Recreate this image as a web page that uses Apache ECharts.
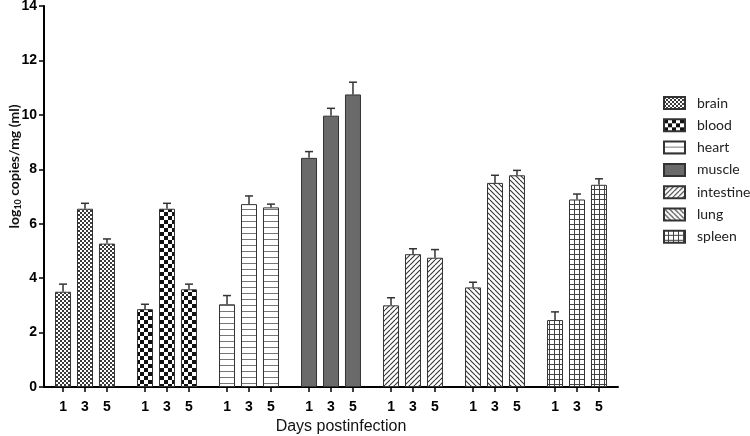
<!DOCTYPE html>
<html>
<head>
<meta charset="utf-8">
<script src="https://cdn.jsdelivr.net/npm/echarts@6/dist/echarts.min.js"></script>
<style>html,body{margin:0;padding:0;background:#fff}#c{width:750px;height:436px}</style>
</head>
<body>
<div id="c"></div>
<script>
// ---- data ----
const tissues = ['brain', 'blood', 'heart', 'muscle', 'intestine', 'lung', 'spleen'];
const days = ['1', '3', '5'];
const brainMean = [3.5, 6.55, 5.27];
const brainErr = [0.28, 0.2, 0.17];
const bloodMean = [2.86, 6.55, 3.59];
const bloodErr = [0.18, 0.2, 0.19];
const heartMean = [3.04, 6.72, 6.6];
const heartErr = [0.32, 0.3, 0.12];
const muscleMean = [8.42, 9.97, 10.75];
const muscleErr = [0.23, 0.27, 0.45];
const intestineMean = [3.0, 4.88, 4.75];
const intestineErr = [0.28, 0.2, 0.3];
const lungMean = [3.66, 7.5, 7.78];
const lungErr = [0.19, 0.28, 0.18];
const spleenMean = [2.46, 6.89, 7.43];
const spleenErr = [0.3, 0.2, 0.22];
const yTicks = [0, 2, 4, 6, 8, 10, 12, 14];

const means = [brainMean, bloodMean, heartMean, muscleMean, intestineMean, lungMean, spleenMean];
const errs = [brainErr, bloodErr, heartErr, muscleErr, intestineErr, lungErr, spleenErr];

// ---- layout (group slot = 1 unit on x axis, days spread inside the slot) ----
const DAY_SPREAD = 0.268;
function pos(g, j) { return g + 0.5 + (j - 1) * DAY_SPREAD; }
function dayLabel(v) {
  const j = Math.round((v - Math.floor(v) - 0.5) / DAY_SPREAD) + 1;
  return days[j] || '';
}
const tickPositions = [];
tissues.forEach((t, g) => days.forEach((d, j) => tickPositions.push(pos(g, j))));

// ---- patterns ----
function mk(w, h, draw) {
  const c = document.createElement('canvas');
  c.width = w; c.height = h;
  const ctx = c.getContext('2d');
  ctx.fillStyle = '#fff'; ctx.fillRect(0, 0, w, h);
  draw(ctx, w, h);
  return { image: c, repeat: 'repeat' };
}
const patterns = {
  brain: mk(4, 4, (ctx) => { ctx.fillStyle = '#3a3a3a'; ctx.fillRect(0, 0, 2, 2); ctx.fillRect(2, 2, 2, 2); }),
  blood: mk(8, 8, (ctx) => { ctx.fillStyle = '#111'; ctx.fillRect(0, 0, 4, 4); ctx.fillRect(4, 4, 4, 4); }),
  heart: mk(6, 6, (ctx) => { ctx.fillStyle = '#777'; ctx.fillRect(0, 5, 6, 1); }),
  muscle: '#6a6a6a',
  intestine: mk(5, 5, (ctx) => {
    ctx.strokeStyle = '#333'; ctx.lineWidth = 1.1;
    for (let k = -1; k <= 1; k++) { ctx.beginPath(); ctx.moveTo(k * 5, 5); ctx.lineTo(k * 5 + 5, 0); ctx.stroke(); }
  }),
  lung: mk(5, 5, (ctx) => {
    ctx.strokeStyle = '#333'; ctx.lineWidth = 1.1;
    for (let k = -1; k <= 1; k++) { ctx.beginPath(); ctx.moveTo(k * 5, 0); ctx.lineTo(k * 5 + 5, 5); ctx.stroke(); }
  }),
  spleen: mk(5, 5, (ctx) => { ctx.fillStyle = '#444'; ctx.fillRect(0, 4, 5, 1); ctx.fillRect(4, 0, 1, 5); })
};

const barSeries = tissues.map((t, g) => ({
  name: t,
  type: 'bar',
  barWidth: 16,
  barGap: '-100%',
  itemStyle: { color: patterns[t], borderColor: '#333', borderWidth: 1 },
  emphasis: { disabled: true },
  data: days.map((d, j) => [pos(g, j), means[g][j]])
}));

const errData = [];
tissues.forEach((t, g) => days.forEach((d, j) => errData.push([pos(g, j), means[g][j], errs[g][j]])));

const errSeries = {
  type: 'custom',
  name: 'err',
  z: 5,
  encode: { x: 0, y: 1 },
  data: errData,
  renderItem: function (params, api) {
    const x = api.value(0), m = api.value(1), e = api.value(2);
    const p0 = api.coord([x, m]);
    const p1 = api.coord([x, m + e]);
    const st = { stroke: '#333', lineWidth: 1.5 };
    return {
      type: 'group',
      children: [
        { type: 'line', shape: { x1: p0[0], y1: p0[1], x2: p1[0], y2: p1[1] }, style: st },
        { type: 'line', shape: { x1: p1[0] - 4, y1: p1[1], x2: p1[0] + 4, y2: p1[1] }, style: st }
      ]
    };
  }
};

const chart = echarts.init(document.getElementById('c'), null, { renderer: 'canvas' });
chart.setOption({
  animation: false,
  backgroundColor: '#fff',
  grid: { left: 44, right: 132, top: 6, bottom: 49, containLabel: false, outerBoundsMode: 'none' },
  legend: {
    data: tissues,
    orient: 'vertical',
    left: 658,
    top: 91,
    itemWidth: 21,
    itemHeight: 12,
    itemGap: 8.3,
    icon: 'rect',
    textStyle: { fontFamily: 'Lato', fontSize: 14, color: '#222', padding: [0, 0, 0, 7] },
    selectedMode: false
  },
  xAxis: {
    type: 'value',
    min: 0,
    max: tissues.length,
    splitLine: { show: false },
    axisLine: { show: true, onZero: false, lineStyle: { color: '#000', width: 2 } },
    axisTick: { show: true, customValues: tickPositions, length: 5, lineStyle: { color: '#000', width: 1.5 } },
    axisLabel: {
      customValues: tickPositions,
      formatter: dayLabel,
      fontFamily: 'Liberation Sans', fontWeight: 'bold', fontSize: 14, color: '#000', margin: 13
    },
    name: 'Days postinfection',
    nameLocation: 'middle',
    nameGap: 31,
    nameTextStyle: { fontFamily: 'Liberation Sans', fontSize: 16, color: '#111', padding: [0, 0, 0, 20] }
  },
  yAxis: {
    type: 'value',
    min: yTicks[0],
    max: yTicks[yTicks.length - 1],
    interval: 2,
    splitLine: { show: false },
    axisLine: { show: true, lineStyle: { color: '#000', width: 2 } },
    axisTick: { show: true, length: 5, lineStyle: { color: '#000', width: 1.5 } },
    axisLabel: { fontFamily: 'Liberation Sans', fontWeight: 'bold', fontSize: 14, color: '#000', margin: 7 },
    name: '{a|log}{b|10}{a| copies/mg (ml)}',
    nameLocation: 'middle',
    nameRotate: 90,
    nameGap: 21,
    nameMoveOverlap: false,
    nameTextStyle: {
      padding: [0, 0, 0, 60],
      rich: {
        a: { fontFamily: 'Lato', fontWeight: 'bold', fontSize: 14, color: '#111' },
        b: { fontFamily: 'Lato', fontWeight: 'bold', fontSize: 9, color: '#111', verticalAlign: 'bottom', padding: [8, 0, 0, 0] }
      }
    }
  },
  series: barSeries.concat([errSeries])
});
</script>
</body>
</html>
